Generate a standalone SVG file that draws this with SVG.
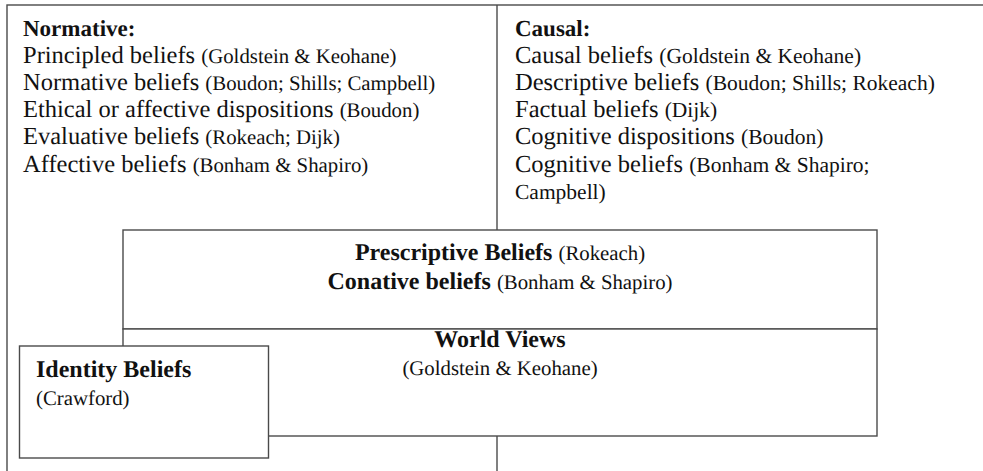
<svg xmlns="http://www.w3.org/2000/svg" width="983" height="471" viewBox="0 0 983 471">
<style>
.box{fill:#fff;stroke:#4a4a4a;stroke-width:1.4}
.ln{stroke:#4a4a4a;stroke-width:1.4;fill:none}
.t{font-family:'Liberation Serif','Times New Roman',serif;fill:#111;font-size:24.5px;text-rendering:geometricPrecision}
.h{font-weight:bold;font-size:23px}
.b{font-weight:bold;font-size:24px}
.c{font-size:20.8px}
.r{font-size:21.5px}
</style>
<rect width="983" height="471" fill="#fff"/>
<g id="outer">
<rect class="box" x="7" y="5" width="990" height="480"/>
</g>
<g id="connectors">
<line class="ln" x1="497" y1="5" x2="497" y2="230"/>
<line class="ln" x1="497" y1="436" x2="497" y2="471"/>
</g>
<g id="normative" class="t" font-family="Liberation Serif, Times New Roman, serif">
<text x="23" y="35.5" class="h">Normative:</text>
<text x="23" y="62.7">Principled beliefs <tspan class="c">(Goldstein &amp; Keohane)</tspan></text>
<text x="23" y="89.9">Normative beliefs <tspan class="c">(Boudon; Shills; Campbell)</tspan></text>
<text x="23" y="117.1">Ethical or affective dispositions <tspan class="c">(Boudon)</tspan></text>
<text x="23" y="144.3">Evaluative beliefs <tspan class="c">(Rokeach; Dijk)</tspan></text>
<text x="23" y="171.5">Affective beliefs <tspan class="c">(Bonham &amp; Shapiro)</tspan></text>
</g>
<g id="causal" class="t" font-family="Liberation Serif, Times New Roman, serif">
<text x="515" y="35.5" class="h">Causal:</text>
<text x="515" y="62.7">Causal beliefs <tspan class="r">(Goldstein &amp; Keohane)</tspan></text>
<text x="515" y="89.9">Descriptive beliefs <tspan class="r">(Boudon; Shills; Rokeach)</tspan></text>
<text x="515" y="117.1">Factual beliefs <tspan class="r">(Dijk)</tspan></text>
<text x="515" y="144.3">Cognitive dispositions <tspan class="r">(Boudon)</tspan></text>
<text x="515" y="171.5">Cognitive beliefs <tspan class="r">(Bonham &amp; Shapiro;</tspan></text>
<text x="515" y="198.7" class="r">Campbell)</text>
</g>
<g id="prescriptive" class="t" font-family="Liberation Serif, Times New Roman, serif">
<rect class="box" x="123" y="230" width="754" height="99"/>
<text x="500" y="260" text-anchor="middle"><tspan class="b">Prescriptive Beliefs</tspan> <tspan class="c">(Rokeach)</tspan></text>
<text x="500" y="289" text-anchor="middle"><tspan class="b">Conative beliefs</tspan> <tspan class="c">(Bonham &amp; Shapiro)</tspan></text>
</g>
<g id="worldviews" class="t" font-family="Liberation Serif, Times New Roman, serif">
<rect class="box" x="123" y="329" width="754" height="107"/>
<text x="500" y="347" text-anchor="middle" class="b">World Views</text>
<text x="500" y="375" text-anchor="middle" class="c">(Goldstein &amp; Keohane)</text>
</g>
<g id="identity" class="t" font-family="Liberation Serif, Times New Roman, serif">
<rect class="box" x="19.5" y="346" width="249" height="112"/>
<text x="36" y="376.5" class="b">Identity Beliefs</text>
<text x="36" y="404.5" class="c">(Crawford)</text>
</g>
</svg>
